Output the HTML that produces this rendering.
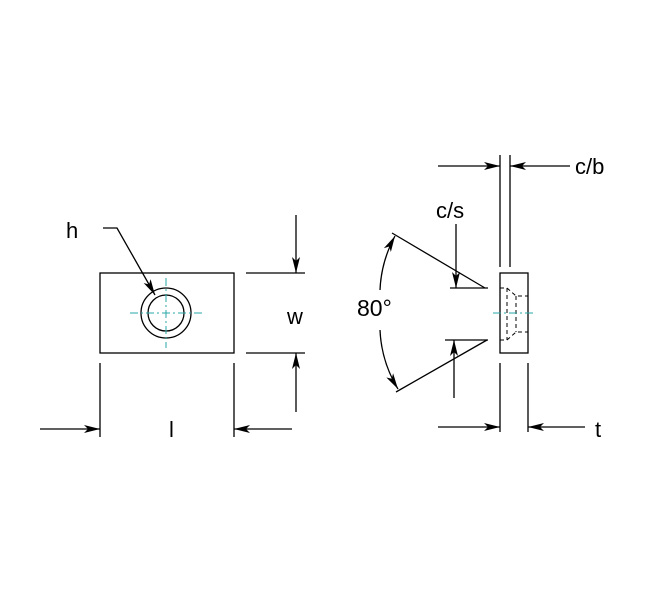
<!DOCTYPE html>
<html><head><style>body{margin:0;background:#fff}svg{display:block}</style></head><body>
<svg width="650" height="602" viewBox="0 0 650 602" xmlns="http://www.w3.org/2000/svg">
<defs><marker id="a" markerWidth="16" markerHeight="8" refX="16" refY="4" orient="auto" markerUnits="userSpaceOnUse"><path d="M0,0 L16,4 L0,8 L4,4 Z" fill="#000"/></marker></defs>
<g stroke="#000" stroke-width="1.3" fill="none">
<rect x="100" y="273" width="134" height="80"/>
<circle cx="166" cy="313" r="25"/>
<circle cx="166" cy="313" r="18"/>
<path d="M103,228 H117 L155,295" marker-end="url(#a)"/>
<path d="M246,273 H305 M246,353 H305"/>
<path d="M296,215 V273" marker-end="url(#a)"/>
<path d="M296,412 V353" marker-end="url(#a)"/>
<path d="M100,363 V437 M234,363 V437"/>
<path d="M40,429 H100" marker-end="url(#a)"/>
<path d="M292,429 H234" marker-end="url(#a)"/>
<rect x="500" y="273" width="28" height="80"/>
<path d="M500,155 V267 M510,155 V267 M500,363 V432 M528,363 V432"/>
<path d="M438,166 H500" marker-end="url(#a)"/>
<path d="M570,166 H510" marker-end="url(#a)"/>
<path d="M438,427 H500" marker-end="url(#a)"/>
<path d="M585,427 H528" marker-end="url(#a)"/>
<path d="M450,288 H488 M445,340 H488"/>
<path d="M456,224 V288" marker-end="url(#a)"/>
<path d="M454,398 V340" marker-end="url(#a)"/>
<path d="M392,233 L485,288 M396,392 L487,340"/>
<path d="M380,290 A124,124 0 0 1 395,236" marker-end="url(#a)"/>
<path d="M380,330 A124,124 0 0 0 398,389" marker-end="url(#a)"/>
<g stroke-dasharray="4,3" stroke-width="1">
<path d="M500,288 H507 L516,296 H528 M500,340 H507 L516,332 H528 M507,288 V340 M516,296 V332"/>
</g>
</g>
<g stroke="#2aa7a7" stroke-width="1" stroke-dasharray="8,3,2,3" fill="none">
<path d="M130,313 H202 M166,278 V348 M493,313 H534"/>
</g>
<g font-family="Liberation Sans, sans-serif" font-size="22" fill="#000">
<text x="66" y="238">h</text>
<text x="287" y="324">w</text>
<text x="169" y="437">l</text>
<text x="575" y="174">c/b</text>
<text x="436" y="218">c/s</text>
<text x="357" y="316" font-size="23">80°</text>
<text x="595" y="437">t</text>
</g>
</svg>
</body></html>
